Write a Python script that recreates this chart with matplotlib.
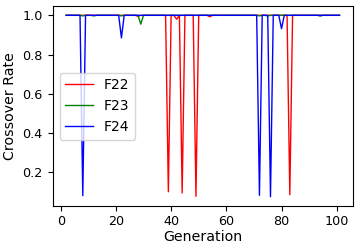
import numpy as np
import matplotlib
matplotlib.use("Agg")
import matplotlib.pyplot as plt

generations = list(range(2, 102))

# dips (generation -> value); all other generations are 1.0
f22_dips = {28: 0.995, 39: 0.10, 42: 0.98, 44: 0.094, 49: 0.077, 54: 0.993, 83: 0.085}
f23_dips = {8: 0.997, 12: 0.997, 22: 0.997, 29: 0.955, 72: 0.997, 75: 0.997, 94: 0.996}
f24_dips = {8: 0.08, 22: 0.885, 72: 0.082, 76: 0.075, 80: 0.932}

f22 = [f22_dips.get(g, 1.0) for g in generations]
f23 = [f23_dips.get(g, 1.0) for g in generations]
f24 = [f24_dips.get(g, 1.0) for g in generations]

fig = plt.figure(figsize=(3.6, 2.5), dpi=100)
ax = fig.add_subplot(111)
fig.subplots_adjust(left=0.146, right=0.981, top=0.975, bottom=0.177)

ax.plot(generations, f22, color='r', lw=1.0, label='F22')
ax.plot(generations, f23, color='g', lw=1.0, label='F23')
ax.plot(generations, f24, color='b', lw=1.0, label='F24')

ax.set_xlabel('Generation', fontsize=10.2, labelpad=1)
ax.set_ylabel('Crossover Rate', fontsize=10.2)
ax.set_xticks([0, 20, 40, 60, 80, 100])
ax.set_yticks([0.2, 0.4, 0.6, 0.8, 1.0])
ax.tick_params(labelsize=9.2)
ax.legend(loc='center left', fontsize=10)

fig.savefig('out.png', dpi=100)
